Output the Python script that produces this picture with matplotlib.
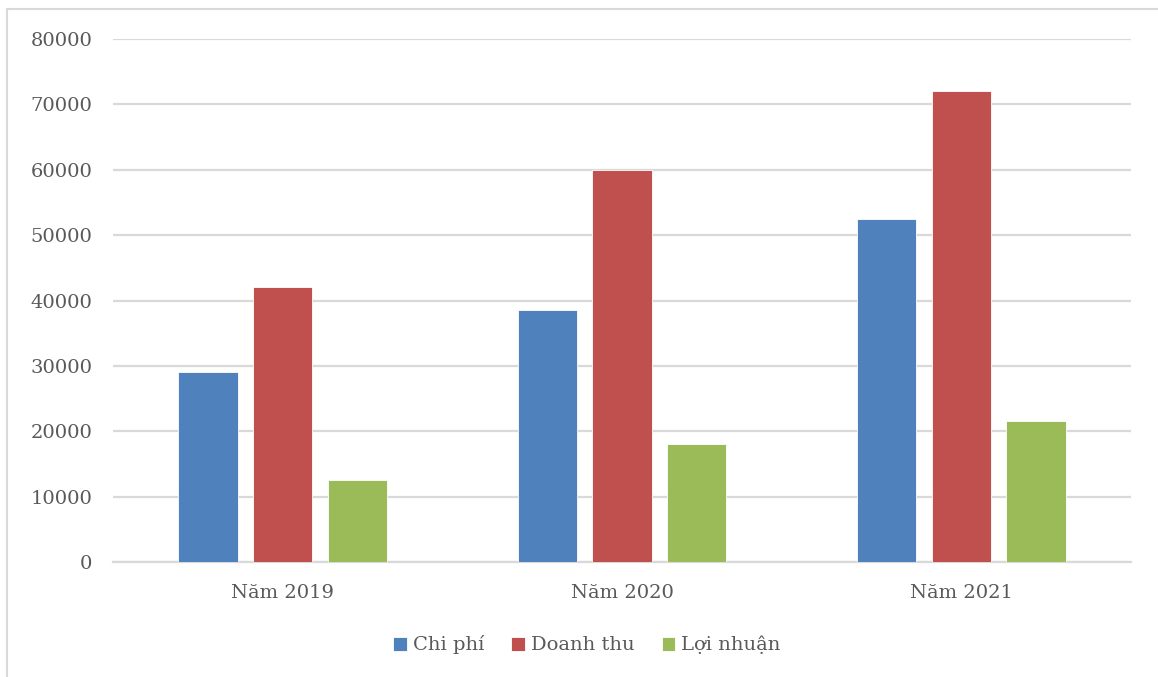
import numpy as np
import matplotlib.pyplot as plt
from matplotlib.patches import Rectangle

years = ['Năm 2019', 'Năm 2020', 'Năm 2021']
series_names = ['Chi phí', 'Doanh thu', 'Lợi nhuận']
chi_phi = [29000, 38600, 52500]
doanh_thu = [42000, 60000, 72000]
loi_nhuan = [12500, 18000, 21500]
colors = ['#4f81bd', '#c0504d', '#9bbb59']

plt.rcParams['font.family'] = ['DejaVu Serif']
text_color = '#595959'

fig = plt.figure(figsize=(11.58, 6.77), dpi=100)
ax = fig.add_axes([113/1158, 1 - 562/677, (1131 - 113)/1158, (562 - 39)/677])

x = np.arange(len(years))
bar_w = 0.174
step = 0.22
for i, (vals, name, c) in enumerate(zip([chi_phi, doanh_thu, loi_nhuan], series_names, colors)):
    ax.bar(x + (i - 1) * step, vals, bar_w, color=c, label=name,
           edgecolor='white', linewidth=0.6, zorder=3)

ax.set_xlim(-0.5, 2.5)
ax.set_ylim(0, 80000)
ax.set_yticks(np.arange(0, 80001, 10000))
ax.set_yticklabels([str(v) for v in range(0, 80001, 10000)])
ax.set_xticks(x)
ax.set_xticklabels(years)
ax.tick_params(axis='y', length=0, pad=15, labelsize=14, labelcolor=text_color)
ax.tick_params(axis='x', length=0, pad=16, labelsize=14, labelcolor=text_color)
ax.grid(axis='y', color='#d9d9d9', linewidth=1.6, zorder=0)
for s in ['top', 'right', 'left']:
    ax.spines[s].set_visible(False)
ax.spines['bottom'].set_color('#d9d9d9')
ax.spines['bottom'].set_linewidth(1.6)

leg = fig.legend(loc='center', bbox_to_anchor=(587/1158, 1 - 645/677), ncol=3,
                 frameon=False, fontsize=14, handlelength=0.7, handleheight=0.7,
                 handletextpad=0.3, columnspacing=1.4, labelcolor=text_color)

# chart area border (only top and left edges are inside the crop)
fig.add_artist(Rectangle((7/1158, -0.05), 1.2, 1 - 9/677 + 0.05, transform=fig.transFigure,
                         fill=False, edgecolor='#d9d9d9', linewidth=1.5))

fig.savefig('out.png', dpi=100)
